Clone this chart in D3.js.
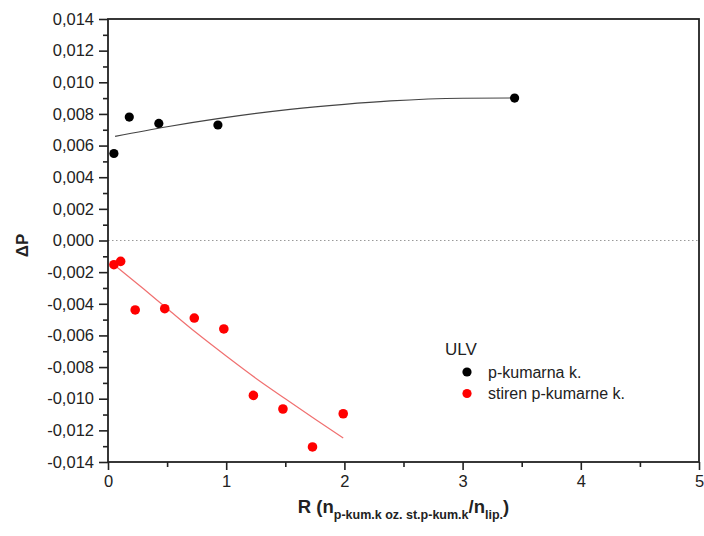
<!DOCTYPE html>
<html>
<head>
<meta charset="utf-8">
<script src="https://cdn.jsdelivr.net/npm/d3@7"></script>
<style>
	body { margin:0; background:#fff; }
	text { font-family: Arial, "Liberation Sans", sans-serif; fill:#222; }
</style>
</head>
<body>
<div id="chart"></div>
<script>
// data
var blackX = [0.05, 0.18, 0.43, 0.93, 3.44],
	blackY = [0.0055, 0.0078, 0.0074, 0.0073, 0.0090];

var redX = [0.05, 0.107, 0.23, 0.48, 0.73, 0.98, 1.23, 1.48, 1.73, 1.99],
	redY = [-0.00153, -0.00132, -0.00439, -0.00431, -0.0049, -0.00559, -0.00979, -0.01065, -0.01305, -0.01095];

// fitted curves
var blackFitX = [0.06, 0.5, 0.93, 1.54, 2.0, 2.39, 3.0, 3.44],
	blackFitY = [0.00658, 0.00719, 0.00770, 0.00829, 0.00861, 0.00882, 0.00899, 0.00901];

var redFitX = [0.07, 0.3, 0.5, 0.75, 1.0, 1.25, 1.5, 1.75, 1.99],
	redFitY = [-0.00165, -0.00305, -0.00430, -0.00585, -0.00730, -0.00870, -0.01000, -0.01128, -0.01248];

var xTicks = [0, 1, 2, 3, 4, 5],
	xMinor = [0.5, 1.5, 2.5, 3.5, 4.5],
	yTicks = [-0.014, -0.012, -0.010, -0.008, -0.006, -0.004, -0.002, 0, 0.002, 0.004, 0.006, 0.008, 0.010, 0.012, 0.014],
	yMinor = [-0.013, -0.011, -0.009, -0.007, -0.005, -0.003, -0.001, 0.001, 0.003, 0.005, 0.007, 0.009, 0.011, 0.013];

var legendTitle = 'ULV',
	seriesNames = ['p-kumarna k.', 'stiren p-kumarne k.'],
	seriesColors = ['#000000', '#ff0000'];

var svgWidth = 704,
	svgHeight = 536;

var margin = {
	t:19,
	r:5,
	b:74,
	l:108,
};

var width = svgWidth - margin.l - margin.r,
	height = svgHeight - margin.t - margin.b;

var svg = d3.select('#chart')
	.append('svg')
	.attr('width', svgWidth)
	.attr('height', svgHeight);

var chartGroup = svg.append('g')
	.attr('transform', `translate(${margin.l},${margin.t})`);

var xScale = d3.scaleLinear().domain([0, 5]).range([0, width]),
	yScale = d3.scaleLinear().domain([-0.014, 0.014]).range([height, 0]);

var fmt = d => d3.format('.3f')(d).replace('.', ',').replace('−', '-');

// zero line
chartGroup.append('line')
	.attr('x1', 0).attr('x2', width)
	.attr('y1', yScale(0)).attr('y2', yScale(0))
	.attr('stroke', '#999')
	.attr('stroke-width', 1)
	.attr('stroke-dasharray', '1.5,2.5');

// axes
var xAxis = chartGroup.append('g')
	.attr('transform', `translate(0,${height})`)
	.call(d3.axisBottom(xScale).tickValues(xTicks).tickSize(8).tickPadding(5).tickFormat(d3.format('d')));
chartGroup.append('g')
	.attr('transform', `translate(0,${height})`)
	.call(d3.axisBottom(xScale).tickValues(xMinor).tickSize(5).tickFormat(''));

var yAxis = chartGroup.append('g')
	.call(d3.axisLeft(yScale).tickValues(yTicks).tickSize(9).tickPadding(5).tickFormat(fmt));
chartGroup.append('g')
	.call(d3.axisLeft(yScale).tickValues(yMinor).tickSize(5).tickFormat(''));

chartGroup.selectAll('.domain').remove();
chartGroup.selectAll('.tick line').attr('stroke', '#222').attr('stroke-width', 1.6);
chartGroup.selectAll('.tick text').style('font-size', '16.5px').attr('fill', '#222');

// frame
chartGroup.append('rect')
	.attr('width', width)
	.attr('height', height)
	.attr('fill', 'none')
	.attr('stroke', '#222')
	.attr('stroke-width', 1.8);

// fit lines
var line = d3.line()
	.x(d => xScale(d[0]))
	.y(d => yScale(d[1]))
	.curve(d3.curveMonotoneX);

chartGroup.append('path')
	.datum(blackFitX.map((x, i) => [x, blackFitY[i]]))
	.attr('d', line)
	.attr('fill', 'none')
	.attr('stroke', '#444')
	.attr('stroke-width', 1.2);

chartGroup.append('path')
	.datum(redFitX.map((x, i) => [x, redFitY[i]]))
	.attr('d', line)
	.attr('fill', 'none')
	.attr('stroke', '#f07070')
	.attr('stroke-width', 1.2);

// points
chartGroup.append('g').selectAll('circle')
	.data(blackX.map((x, i) => [x, blackY[i]]))
	.enter()
	.append('circle')
	.attr('cx', d => xScale(d[0]))
	.attr('cy', d => yScale(d[1]))
	.attr('r', 4.6)
	.attr('fill', seriesColors[0]);

chartGroup.append('g').selectAll('circle')
	.data(redX.map((x, i) => [x, redY[i]]))
	.enter()
	.append('circle')
	.attr('cx', d => xScale(d[0]))
	.attr('cy', d => yScale(d[1]))
	.attr('r', 4.8)
	.attr('fill', seriesColors[1]);

// legend
var legend = svg.append('g')
	.attr('transform', 'translate(445,355)');

legend.append('text')
	.attr('x', 0)
	.attr('y', 0)
	.style('font-size', '17px')
	.text(legendTitle);

seriesNames.forEach((name, i) => {
	legend.append('circle')
		.attr('cx', 22)
		.attr('cy', 17 + i * 21.5)
		.attr('r', 4.6)
		.attr('fill', seriesColors[i]);
	legend.append('text')
		.attr('x', 43)
		.attr('y', 22.5 + i * 21.5)
		.style('font-size', '16px')
		.text(name);
});

// axis titles
svg.append('text')
	.attr('transform', `translate(28,${margin.t + height / 2 + 5})rotate(-90)`)
	.attr('text-anchor', 'middle')
	.style('font-size', '17px')
	.style('font-weight', 'bold')
	.text('ΔP');

var xTitle = svg.append('text')
	.attr('x', margin.l + width / 2)
	.attr('y', 513)
	.attr('text-anchor', 'middle')
	.style('font-size', '18.5px')
	.style('font-weight', 'bold');
xTitle.append('tspan').text('R (n');
xTitle.append('tspan').attr('dy', 6).style('font-size', '12.5px').text('p-kum.k oz. st.p-kum.k');
xTitle.append('tspan').attr('dy', -6).text('/n');
xTitle.append('tspan').attr('dy', 6).style('font-size', '12.5px').text('lip.');
xTitle.append('tspan').attr('dy', -6).text(')');
</script>
</body>
</html>
